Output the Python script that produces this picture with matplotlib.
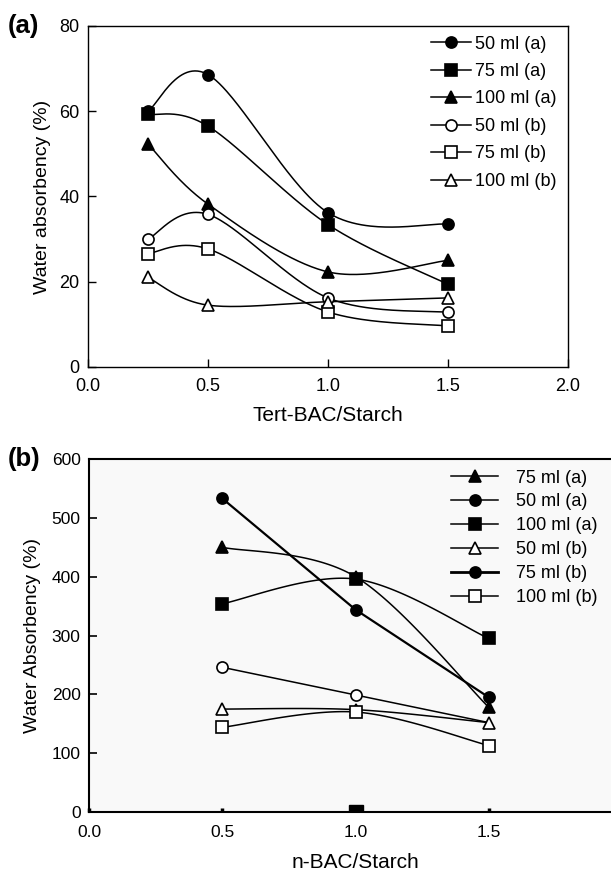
import numpy as np
import matplotlib
matplotlib.use("Agg")
import matplotlib.pyplot as plt
from matplotlib.lines import Line2D

plt.rcParams["font.family"] = ["Liberation Sans", "DejaVu Sans"]

# ---- (a) water absorbency vs Tert-BAC/Starch ----
ratio_a = [0.25, 0.5, 1.0, 1.5]
a_labels = ["50 ml (a)", "75 ml (a)", "100 ml (a)", "50 ml (b)", "75 ml (b)", "100 ml (b)"]
a_50a = [60.0, 68.6, 36.2, 33.5]
a_75a = [59.3, 56.5, 33.4, 19.4]
a_100a = [52.3, 38.2, 22.3, 25.0]
a_50b = [30.0, 35.8, 16.2, 12.8]
a_75b = [26.6, 27.7, 12.9, 9.6]
a_100b = [21.0, 14.5, 15.3, 16.2]
a_xticks = [0.0, 0.5, 1.0, 1.5, 2.0]
a_yticks = [0, 20, 40, 60, 80]

# ---- (b) water absorbency vs n-BAC/Starch ----
ratio_b = [0.5, 1.0, 1.5]
b_labels = ["75 ml (a)", "50 ml (a)", "100 ml (a)", "50 ml (b)", "75 ml (b)", "100 ml (b)"]
b_75a = [450, 400, 178]
b_50a = [246, 199, 152]
b_100a = [354, 396, 295]
b_50b = [175, 174, 152]
b_75b = [533, 344, 195]
b_100b = [144, 170, 113]
b_base_x = [1.0]
b_base_y = [0]
b_xticks = [0.0, 0.5, 1.0, 1.5]
b_yticks = [0, 100, 200, 300, 400, 500, 600]


def smooth(x, y, n=60):
    """bezier smoothing through the points (catmull-rom style control points)"""
    p = np.column_stack([x, y]).astype(float)
    k = len(p)
    t = np.linspace(0, 1, n)[:, None]
    out = []
    for i in range(k - 1):
        prev = p[max(i - 1, 0)]
        nxt = p[min(i + 2, k - 1)]
        c1 = p[i] + (p[i + 1] - prev) / 6
        c2 = p[i + 1] - (nxt - p[i]) / 6
        seg = ((1 - t) ** 3 * p[i] + 3 * (1 - t) ** 2 * t * c1
               + 3 * (1 - t) * t ** 2 * c2 + t ** 3 * p[i + 1])
        out.append(seg if i == 0 else seg[1:])
    out = np.vstack(out)
    return out[:, 0], out[:, 1]


def draw(ax, x, y, marker, filled, curved=True, lw=1.1, ms=8, markevery=None):
    if curved:
        xs, ys = smooth(x, y)
    else:
        xs, ys = x, y
    ax.plot(xs, ys, color="k", lw=lw, zorder=2)
    fc = "k" if filled else "white"
    ax.plot(x, y, ls="none", marker=marker, ms=ms, mfc=fc, mec="k",
            mew=1.2, zorder=3, markevery=markevery)


def handle(marker, filled, lw=1.1, ms=8):
    return Line2D([], [], color="k", lw=lw, marker=marker, ms=ms,
                  mfc="k" if filled else "white", mec="k", mew=1.2)


fig = plt.figure(figsize=(6.11, 8.71), dpi=100)

# panel (a)
ax1 = fig.add_axes([0.144, 0.5787, 0.7856, 0.3915])
draw(ax1, ratio_a, a_50a, "o", True)
draw(ax1, ratio_a, a_75a, "s", True)
draw(ax1, ratio_a, a_100a, "^", True)
draw(ax1, ratio_a, a_50b, "o", False)
draw(ax1, ratio_a, a_75b, "s", False)
draw(ax1, ratio_a, a_100b, "^", False)
ax1.set_xlim(0, 2.0)
ax1.set_ylim(0, 80)
ax1.set_xticks(a_xticks)
ax1.set_xticklabels([f"{v:.1f}" for v in a_xticks])
ax1.set_yticks(a_yticks)
ax1.tick_params(direction="in", length=6, width=1.0, labelsize=13, pad=6)
ax1.tick_params(axis="x", pad=8)
for s in ax1.spines.values():
    s.set_linewidth(1.0)
ax1.set_xlabel("Tert-BAC/Starch", fontsize=15, labelpad=8)
ax1.set_ylabel("Water absorbency (%)", fontsize=14, labelpad=6)
hs_a = [handle("o", True), handle("s", True), handle("^", True),
        handle("o", False), handle("s", False), handle("^", False)]
ax1.legend(hs_a, a_labels, loc="upper left", bbox_to_anchor=(0.715, 0.972),
           frameon=False, fontsize=13, handlelength=2.2, handletextpad=0.25,
           labelspacing=0.58, borderpad=0, borderaxespad=0)
fig.text(0.013, 0.970, "(a)", fontsize=18.5, fontweight="bold", va="center")

# panel (b)
ax2 = fig.add_axes([0.1457, 0.0677, 0.8723, 0.4053])
ax2.set_facecolor("#f9f9f9")
draw(ax2, ratio_b, b_75a, "^", True)
draw(ax2, ratio_b, b_50a, "o", False, curved=False, markevery=[0, 1])
draw(ax2, ratio_b, b_100a, "s", True)
draw(ax2, ratio_b, b_50b, "^", False)
draw(ax2, ratio_b, b_75b, "o", True, curved=False, lw=1.6)
draw(ax2, ratio_b, b_100b, "s", False)
ax2.plot(b_base_x, b_base_y, ls="none", marker="s", ms=10, color="k", zorder=3)
ax2.set_xlim(0, 2.0)
ax2.set_ylim(0, 600)
ax2.set_xticks(b_xticks)
ax2.set_xticklabels([f"{v:.1f}" for v in b_xticks])
ax2.set_yticks(b_yticks)
ax2.tick_params(axis="y", direction="in", length=6, width=1.2, labelsize=12.5, pad=6)
ax2.tick_params(axis="x", direction="in", length=3, width=2.5, labelsize=12.5, pad=9)
for s in ax2.spines.values():
    s.set_linewidth(1.5)
ax2.set_xlabel("n-BAC/Starch", fontsize=15, labelpad=10)
ax2.set_ylabel("Water Absorbency (%)", fontsize=14, labelpad=8)
hs_b = [handle("^", True), handle("o", True), handle("s", True),
        handle("^", False), handle("o", True, lw=2.0), handle("s", False)]
ax2.legend(hs_b, b_labels, loc="upper left", bbox_to_anchor=(0.68, 0.97),
           frameon=False, fontsize=13, handlelength=2.6, handletextpad=0.95,
           labelspacing=0.38, borderpad=0, borderaxespad=0)
fig.text(0.013, 0.473, "(b)", fontsize=18.5, fontweight="bold", va="center")

fig.savefig("out.png", dpi=100)
